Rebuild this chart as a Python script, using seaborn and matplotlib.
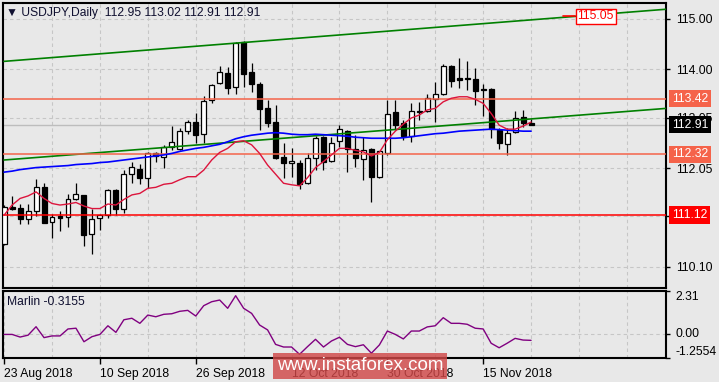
import matplotlib
matplotlib.use('Agg')
import matplotlib.pyplot as plt
import numpy as np
import seaborn as sns

# ---- data (USDJPY daily, 23 Aug .. 23 Nov 2018) ----
opens = [110.54, 111.29, 111.26, 111.05, 111.20, 111.67, 110.98, 111.10, 111.08, 111.43,
         111.52, 110.74, 111.06, 111.12, 111.61, 111.25, 111.93, 112.03, 111.85, 112.34,
         112.26, 112.46, 112.43, 112.79, 112.96, 112.72, 113.40, 113.73, 113.93, 113.65,
         114.54, 113.94, 113.71, 113.23, 112.96, 112.26, 112.15, 112.15, 111.75, 112.24,
         112.66, 112.19, 112.59, 112.79, 112.42, 112.22, 112.42, 111.87, 112.34, 113.15,
         112.94, 112.69, 113.18, 113.17, 113.41, 113.51, 114.07, 113.83, 113.83, 113.81,
         113.62, 113.62, 112.80, 112.52, 112.76, 113.06, 112.95]
highs = [111.32, 111.50, 111.35, 111.35, 111.83, 111.76, 111.14, 111.21, 111.54, 111.76,
         111.52, 111.24, 111.14, 111.63, 111.63, 112.01, 112.17, 112.13, 112.37, 112.37,
         112.51, 112.88, 112.84, 113.00, 113.13, 113.48, 113.71, 114.07, 114.04, 114.55,
         114.56, 114.12, 113.76, 113.40, 113.30, 112.54, 112.44, 112.21, 112.34, 112.69,
         112.69, 112.66, 112.90, 112.80, 112.71, 112.67, 112.44, 112.38, 113.40, 113.40,
         113.00, 113.33, 113.36, 113.51, 113.76, 114.10, 114.09, 114.22, 114.16, 114.02,
         113.71, 113.63, 112.84, 112.84, 113.17, 113.20, 113.02]
lows = [110.52, 111.22, 110.94, 110.94, 111.10, 110.96, 110.67, 110.81, 110.89, 111.41,
        110.51, 110.36, 110.83, 111.06, 111.12, 111.17, 111.75, 111.74, 111.66, 112.17,
        112.05, 112.41, 112.41, 112.72, 112.54, 112.55, 113.33, 113.71, 113.52, 113.52,
        113.65, 113.56, 112.80, 112.87, 112.23, 111.85, 111.88, 111.63, 111.74, 112.01,
        112.01, 112.18, 112.47, 111.97, 112.08, 111.82, 111.37, 111.85, 112.31, 112.80,
        112.61, 112.56, 113.00, 113.15, 112.97, 113.50, 113.65, 113.63, 113.60, 113.30,
        113.07, 112.64, 112.42, 112.31, 112.74, 112.87, 112.91]
closes = [111.28, 111.24, 111.05, 111.20, 111.67, 110.97, 111.08, 111.07, 111.43, 111.53,
          110.73, 111.04, 111.13, 111.61, 111.25, 111.93, 112.07, 111.85, 112.34, 112.28,
          112.47, 112.57, 112.79, 112.96, 112.71, 113.38, 113.69, 113.95, 113.64, 114.52,
          113.91, 113.71, 113.22, 112.95, 112.24, 112.15, 112.19, 111.74, 112.24, 112.64,
          112.18, 112.54, 112.82, 112.42, 112.24, 112.41, 111.88, 112.38, 113.12, 112.90,
          112.69, 113.17, 113.15, 113.43, 113.51, 114.07, 113.77, 113.79, 113.81, 113.58,
          113.60, 112.82, 112.54, 112.74, 113.04, 112.94, 112.91]

ma_fast = [111.12, 111.32, 111.45, 111.50, 111.58, 111.45, 111.35, 111.32, 111.34, 111.37,
           111.30, 111.25, 111.25, 111.34, 111.32, 111.43, 111.52, 111.55, 111.65, 111.67,
           111.73, 111.75, 111.82, 111.88, 111.88, 112.01, 112.21, 112.36, 112.44, 112.57,
           112.59, 112.51, 112.34, 112.11, 111.93, 111.75, 111.72, 111.70, 111.86, 112.06,
           112.18, 112.31, 112.44, 112.44, 112.40, 112.37, 112.29, 112.36, 112.61, 112.78,
           112.92, 113.04, 113.10, 113.20, 113.23, 113.36, 113.43, 113.46, 113.46, 113.41,
           113.33, 113.13, 112.90, 112.82, 112.82, 112.88, 112.96]
ma_slow = [111.97, 111.99, 112.02, 112.04, 112.06, 112.07, 112.08, 112.09, 112.10, 112.12,
           112.13, 112.14, 112.16, 112.17, 112.19, 112.21, 112.23, 112.25, 112.27, 112.29,
           112.31, 112.34, 112.38, 112.41, 112.44, 112.46, 112.49, 112.52, 112.57, 112.63,
           112.67, 112.70, 112.72, 112.74, 112.75, 112.74, 112.72, 112.71, 112.71, 112.72,
           112.71, 112.70, 112.69, 112.68, 112.66, 112.65, 112.64, 112.64, 112.64, 112.64,
           112.65, 112.67, 112.69, 112.71, 112.73, 112.74, 112.76, 112.78, 112.79, 112.80,
           112.81, 112.82, 112.81, 112.80, 112.79, 112.78, 112.78]
marlin = [0.00, 0.00, -0.14, -0.04, 0.41, -0.17, -0.08, -0.08, 0.29, 0.33,
          -0.39, -0.12, 0.00, 0.46, 0.11, 0.78, 0.86, 0.59, 1.03, 0.94,
          1.07, 1.10, 1.23, 1.28, 0.98, 1.53, 1.74, 1.83, 1.39, 2.06,
          1.39, 1.12, 0.50, 0.24, -0.53, -0.67, -0.67, -1.06, -0.65, -0.26,
          -0.67, -0.35, -0.15, -0.53, -0.65, -0.55, -1.00, -0.56, 0.18, 0.00,
          -0.24, 0.18, 0.18, 0.40, 0.46, 0.89, 0.59, 0.59, 0.54, 0.33,
          0.29, -0.47, -0.71, -0.47, -0.21, -0.30, -0.3155]

date_labels = ['23 Aug 2018', '10 Sep 2018', '26 Sep 2018', '12 Oct 2018', '30 Oct 2018', '15 Nov 2018']
price_ticks = [110.10, 111.10, 112.05, 113.05, 114.00, 115.00]
levels = [113.42, 112.32, 111.12]
level_colors = ['#F5634A', '#F5634A', '#FF0000']
# channel lines: price at first bar and at the right edge of the chart
channel_upper = [114.16, 115.19]
channel_lower = [112.21, 113.23]
target_price = 115.05
marlin_range = [-1.2554, 2.31]

BG = '#E8E8E8'
GRID = '#C6C6C6'
FS = 8.7

sns.set_theme(style='ticks', rc={
    'axes.facecolor': BG, 'figure.facecolor': BG,
    'axes.edgecolor': 'black', 'axes.linewidth': 1.5,
    'lines.scale_dashes': False,
    'xtick.color': 'black', 'ytick.color': 'black',
})
plt.rcParams['font.family'] = ['Liberation Sans', 'DejaVu Sans']

fig = plt.figure(figsize=(7.19, 3.82), dpi=100)
ax = fig.add_axes([0.0035, 0.2461, 0.9228, 0.7469])
ax2 = fig.add_axes([0.0035, 0.0628, 0.9228, 0.1754])

x = np.arange(len(opens))
o, h, l, c = (np.array(v) for v in (opens, highs, lows, closes))
x_right = 82.9
xlim = (-0.2, x_right)
grid_x = np.arange(6, x_right, 6)
date_x = np.arange(0, 12 * len(date_labels), 12)

# ---- main panel ----
ax.set_xlim(*xlim)
ax.set_ylim(109.68, 115.32)
ax.set_xticks(grid_x)
ax.tick_params(axis='x', length=0, labelbottom=False)
ax.yaxis.tick_right()
ax.set_yticks(price_ticks)
# the 111.10 label sits fully under the 111.12 level tag
ax.set_yticklabels(['' if t == 111.10 else f'{t:.2f}' for t in price_ticks], fontsize=FS)
ax.tick_params(axis='y', length=3, width=1, pad=4, right=True, left=False)
ax.grid(True, ls=(0, (2.5, 2.2)), color=GRID, lw=0.8, zorder=0)
ax.set_axisbelow(True)

ax.axhline(closes[-1], color='#BDBDBD', lw=1.0, zorder=1)

# candles
ax.vlines(x, l, h, color='black', lw=0.9, zorder=3)
body_lo = np.minimum(o, c)
body_h = np.maximum(np.abs(c - o), 0.014)
ax.bar(x, body_h, bottom=body_lo, width=0.62,
       color=np.where(c >= o, 'white', 'black'), edgecolor='black', linewidth=0.9, zorder=4)

# channel, levels, moving averages
for vals in (channel_upper, channel_lower):
    ax.plot([0, x_right], vals, color='#008000', lw=1.2, zorder=5)
for lv, col in zip(levels, level_colors):
    ax.axhline(lv, color=col, lw=1.1, zorder=5)
sns.lineplot(x=x, y=ma_slow, color='#0000FF', lw=1.2, ax=ax, zorder=6)
sns.lineplot(x=x, y=ma_fast, color='#DC143C', lw=1.0, ax=ax, zorder=6)

ax.text(0.006, 0.965, '\u25BC USDJPY,Daily  {:.2f} {:.2f} {:.2f} {:.2f}'.format(
        opens[-1], highs[-1], lows[-1], closes[-1]),
        transform=ax.transAxes, fontsize=FS, va='center', ha='left', color='#101030')

# target label
ax.plot([70.0, 71.5], [target_price, target_price], color='red', lw=1.2, zorder=7)
ax.text(71.8, target_price, f'{target_price:.2f}', color='red', fontsize=FS, va='center', ha='left',
        bbox=dict(boxstyle='square,pad=0.15', fc='white', ec='red', lw=1.0), zorder=8)

# price tags on the right scale
for lv, col in list(zip(levels, level_colors)) + [(closes[-1], 'black')]:
    ax.annotate(f'{lv:.2f}', xy=(1, lv), xycoords=('axes fraction', 'data'),
                xytext=(4.2, 0), textcoords='offset points', va='center', ha='left',
                color='white', fontsize=FS, zorder=10, annotation_clip=False,
                bbox=dict(boxstyle='square,pad=0.22', fc=col, ec='none'))

# ---- indicator panel ----
sns.lineplot(x=x, y=marlin, color='#800080', lw=1.0, ax=ax2, zorder=4)
ax2.set_xlim(*xlim)
ax2.set_ylim(*marlin_range)
ax2.set_xticks(date_x)
ax2.set_xticklabels(date_labels, fontsize=FS)
for lbl in ax2.get_xticklabels():
    lbl.set_ha('left')
ax2.set_xticks(grid_x, minor=True)
ax2.tick_params(axis='x', which='major', length=4, width=1, pad=3)
ax2.tick_params(axis='x', which='minor', length=0)
ax2.yaxis.tick_right()
ax2.set_yticks([marlin_range[1], 0, marlin_range[0]])
ax2.set_yticklabels(['2.31', '0.00', '-1.2554'], fontsize=FS)
for lbl, va in zip(ax2.get_yticklabels(), ['top', 'center', 'bottom']):
    lbl.set_va(va)
ax2.tick_params(axis='y', length=3, width=1, pad=4, right=True, left=False)
ax2.grid(True, which='both', ls=(0, (2.5, 2.2)), color=GRID, lw=0.8)
ax2.set_axisbelow(True)
ax2.text(0.007, 0.84, f'Marlin {marlin[-1]:.4f}', transform=ax2.transAxes,
         fontsize=FS, va='center', ha='left', color='#101030')

# watermark
fig.text(0.5007, 0.042, 'www.instaforex.com', ha='center', va='center', color='white',
         fontsize=13.5, bbox=dict(boxstyle='square,pad=0.22', fc='#D04848', alpha=0.82, ec='none'),
         zorder=20)

plt.savefig('out.png', dpi=100)
plt.close(fig)
